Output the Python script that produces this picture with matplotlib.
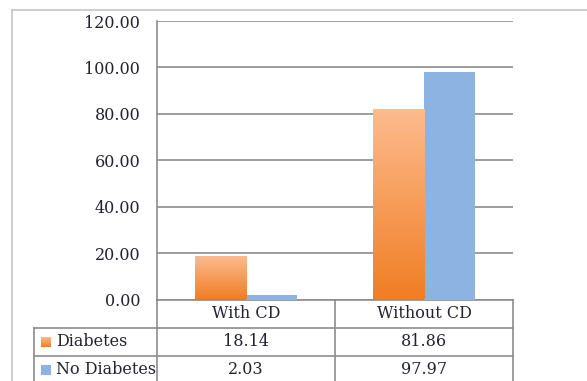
import numpy as np
import matplotlib.pyplot as plt
from matplotlib.patches import Rectangle
from matplotlib.colors import LinearSegmentedColormap

# Данные
categories = ["With CD", "Without CD"]
series_names = ["Diabetes", "No Diabetes"]
diabetes = [18.14, 81.86]
no_diabetes = [2.03, 97.97]
y_ticks = [0, 20, 40, 60, 80, 100, 120]

W, H = 587, 381
plt.rcParams['font.family'] = ['DejaVu Serif']
text_color = '#23232f'
grid_color = '#8c8c8c'
blue = '#8db3e2'
orange_cmap = LinearSegmentedColormap.from_list('orange_grad', ['#f07e24', '#fdbb8e'])


def fx(px):
    return px / W


def fy(py):
    return 1 - py / H


fig = plt.figure(figsize=(W / 100, H / 100), dpi=100)
ax = fig.add_axes([fx(157), fy(299.5), fx(513) - fx(157), fy(21) - fy(299.5)])

# Рамка вокруг всей диаграммы
fig.add_artist(plt.Line2D([fx(12), fx(12)], [fy(10), 0], color='#c6c6c6', lw=1.2))
fig.add_artist(plt.Line2D([fx(12), 1], [fy(10), fy(10)], color='#c6c6c6', lw=1.2))

x = np.arange(len(categories))
bw = 0.287
bars_d = ax.bar(x - bw / 2, diabetes, bw, color='none', zorder=3)
ax.bar(x + bw / 2, no_diabetes, bw, color=blue, zorder=3)

# Градиентная заливка оранжевых столбцов
grad = np.linspace(0, 1, 256).reshape(-1, 1)
for b in bars_d:
    x0, w, h = b.get_x(), b.get_width(), b.get_height()
    ax.imshow(grad, cmap=orange_cmap, origin='lower', aspect='auto',
              extent=[x0, x0 + w, 0, h], zorder=3)

ax.set_xlim(-0.5, len(categories) - 0.5)
ax.set_ylim(0, 120)
ax.set_yticks(y_ticks)
ax.set_yticklabels([f"{v:.2f}" for v in y_ticks], fontsize=11.5, color=text_color)
ax.tick_params(axis='y', length=0, pad=12)
ax.set_xticks([])
ax.yaxis.grid(True, color=grid_color, lw=1.2)
ax.set_axisbelow(True)
for side in ['top', 'right', 'bottom']:
    ax.spines[side].set_visible(False)
ax.spines['left'].set_color(grid_color)
ax.spines['left'].set_linewidth(1.2)

# Таблица данных под осью
row_h = 28 / 278.5
left_col = (34 - 157) / 356
kw = dict(transform=ax.transAxes, clip_on=False, color=grid_color, lw=1.2)
ax.plot([0, 1], [0, 0], **kw)
ax.plot([left_col, 1], [-row_h, -row_h], **kw)
ax.plot([left_col, 1], [-2 * row_h, -2 * row_h], **kw)
ax.plot([0, 0], [0, -0.35], **kw)
ax.plot([left_col, left_col], [-row_h, -0.35], **kw)
for i in range(1, len(categories) + 1):
    xs = i / len(categories)
    ax.plot([xs, xs], [0, -0.35], **kw)

for i, cat in enumerate(categories):
    xc = (i + 0.5) / len(categories)
    ax.text(xc, -0.5 * row_h, cat, transform=ax.transAxes, ha='center', va='center',
            fontsize=11.5, color=text_color)
    ax.text(xc, -1.5 * row_h, f"{diabetes[i]:.2f}", transform=ax.transAxes,
            ha='center', va='center', fontsize=11.5, color=text_color)
    ax.text(xc, -2.5 * row_h, f"{no_diabetes[i]:.2f}", transform=ax.transAxes,
            ha='center', va='center', fontsize=11.5, color=text_color)

# Подписи рядов с маркерами легенды
for r, name in enumerate(series_names):
    yc = 342 + 28 * r
    ax_key = fig.add_axes([fx(41), fy(yc + 5), fx(51) - fx(41), 10 / H])
    ax_key.set_axis_off()
    if r == 0:
        ax_key.imshow(grad, cmap=orange_cmap, origin='lower', aspect='auto', extent=[0, 1, 0, 1])
    else:
        ax_key.add_patch(Rectangle((0, 0), 1, 1, color=blue))
    ax_key.set_xlim(0, 1)
    ax_key.set_ylim(0, 1)
    fig.text(fx(56), fy(yc), name, ha='left', va='center', fontsize=11.5, color=text_color)

fig.savefig('out.png', dpi=100)
